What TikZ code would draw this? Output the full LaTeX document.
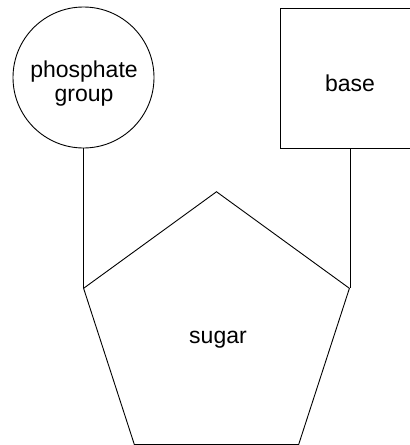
\documentclass[tikz,border=0pt]{standalone}
\usepackage{fontspec}
\setmainfont{Liberation Sans}
\usetikzlibrary{shapes.geometric}
\begin{document}
\begin{tikzpicture}[x=1pt,y=-1pt,line width=0.9pt,
  lbl/.style={font=\fontsize{23}{24}\selectfont, align=center},
  shapebox/.style={draw, inner sep=0pt}]
\useasboundingbox (0,0) rectangle (410,445);
\node[shapebox, circle, minimum size=141pt] (phos) at (83.5,77.5) {};
\node[shapebox, rectangle, minimum size=140pt] (base) at (350,78) {};
\node[shapebox, regular polygon, regular polygon sides=5, minimum size=279.5pt] (sugar) at (216.5,331.5) {};
\node[lbl] (phostext) at (84,84) {phosphate\\group};
\node[lbl] (basetext) at (350,83) {base};
\node[lbl] (sugartext) at (218,340) {sugar};
\draw (phos.south) -- (phos.south |- sugar.corner 2);
\draw (base.south) -- (base.south |- sugar.corner 5);
\end{tikzpicture}
\end{document}
